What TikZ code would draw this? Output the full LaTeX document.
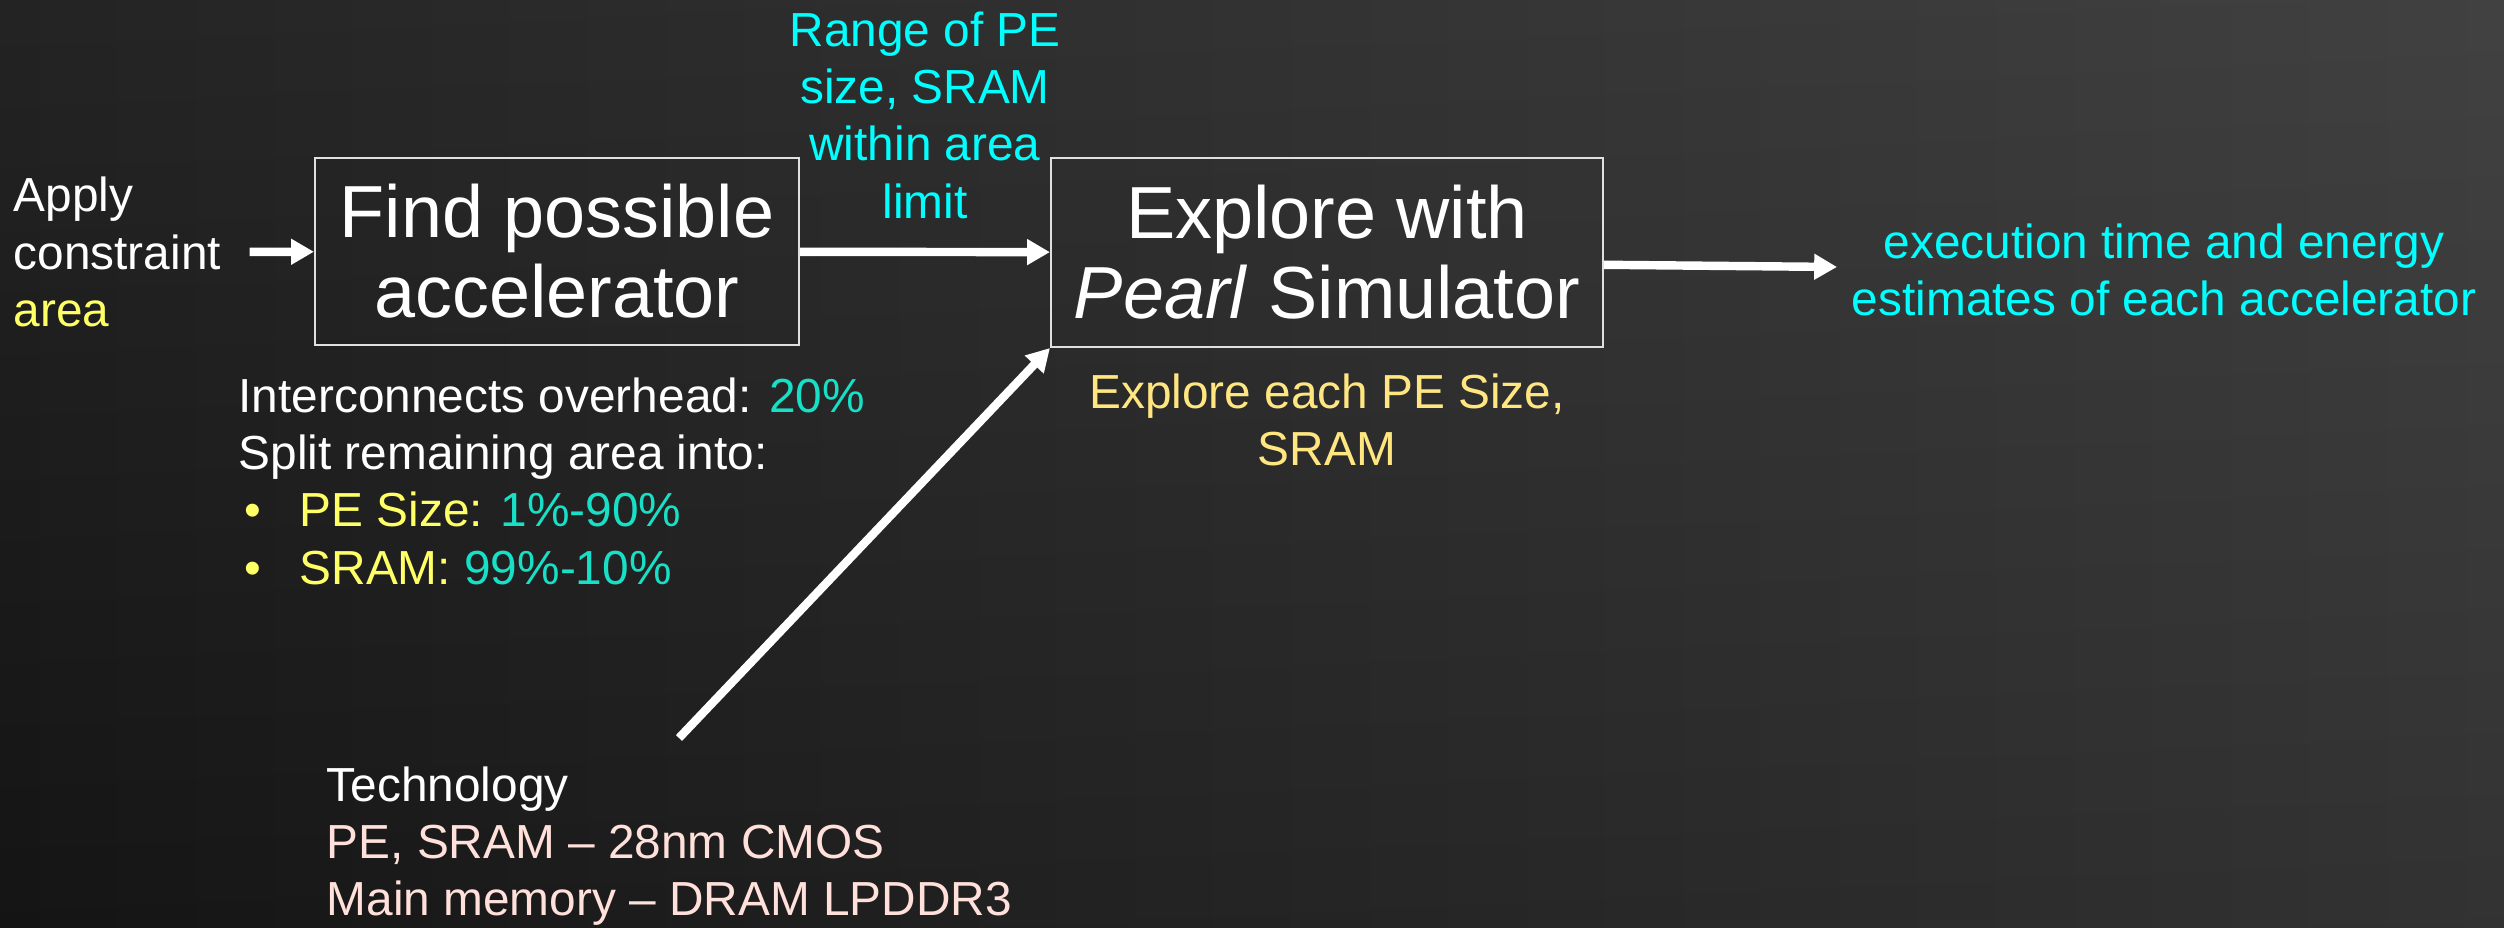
\documentclass[tikz,border=0pt]{standalone}
\usepackage{fontspec}
\setmainfont{Liberation Sans}
\usepackage{xcolor}
\usetikzlibrary{arrows.meta, positioning}

\definecolor{bgdark}{RGB}{22,22,22}
\definecolor{bglight}{RGB}{54,54,54}
\definecolor{hlcyan}{RGB}{0,255,255}
\definecolor{hlteal}{RGB}{24,224,198}
\definecolor{hlyellow}{RGB}{255,255,102}
\definecolor{softyellow}{RGB}{255,230,128}
\definecolor{techpink}{RGB}{255,224,218}

\newcommand{\smalltxt}{\fontsize{13.6}{16.3}\selectfont}
\newcommand{\bigtxt}{\fontsize{21}{22.7}\selectfont}

\begin{document}
\begin{tikzpicture}[
    stage/.style={rectangle, draw=white!88!black, line width=0.6pt, inner sep=0pt, align=center, text=white, font=\bigtxt},
    note/.style={inner sep=0pt, font=\smalltxt, text=white},
    flow/.style={-{Triangle[length=6.5pt,width=7pt]}, white, line width=2.4pt}
]

% background: dark on the left, lighter to the right, a little lighter at the top
\useasboundingbox (0,0) rectangle (25.04,9.27);
\shade[left color=bgdark, right color=bglight] (0,0) rectangle (25.04,9.27);
\shade[bottom color=black, top color=white, opacity=0.06] (0,0) rectangle (25.04,9.27);

% the two stages
\node[stage, minimum width=4.84cm, minimum height=1.87cm] (find) at (5.57,6.755) {Find possible\\accelerator};
\node[stage, minimum width=5.52cm, minimum height=1.89cm] (pearl) at (13.27,6.745) {Explore with\\\textit{Pearl} Simulator};

% inputs and outputs
\node[note, anchor=west, align=left] (apply) at (0.13,6.75) {Apply\\constraint\\\textcolor{hlyellow}{area}};
\node[note, align=center, text=hlcyan] (range) at (9.25,8.12) {Range of PE\\size, SRAM\\within area\\limit};
\node[note, align=center, text=hlcyan] (result) at (21.64,6.57) {execution time and energy\\estimates of each accelerator};
\node[note, align=center, text=softyellow] (sweep) at (13.27,5.07) {Explore each PE Size,\\SRAM};

% area split
\node[note, anchor=west, align=left] (split) at (2.38,4.46) {Interconnects overhead: \textcolor{hlteal}{20\%}\\
  Split remaining area into:\\
  \makebox[0.61cm][l]{\hspace*{0.06cm}\textcolor{hlyellow}{•}}\textcolor{hlyellow}{PE Size:} \textcolor{hlteal}{1\%-90\%}\\
  \makebox[0.61cm][l]{\hspace*{0.06cm}\textcolor{hlyellow}{•}}\textcolor{hlyellow}{SRAM:} \textcolor{hlteal}{99\%-10\%}};

% technology
\node[note, anchor=west, align=left] (tech) at (3.26,0.81) {Technology\\
  \textcolor{techpink}{PE, SRAM – 28nm CMOS}\\
  \textcolor{techpink}{Main memory – DRAM LPDDR3}};

% arrows
\coordinate (resulttip) at (18.37,6.60);
\coordinate (techtail) at (6.79,1.89);
\draw[flow, shorten <=0.28cm] (apply) -- (find);
\draw[flow] (find) -- (pearl);
\draw[flow] ([yshift=-3.5pt]pearl.east) -- (resulttip);
\draw[flow] (techtail) -- (pearl.south west);

\end{tikzpicture}
\end{document}
